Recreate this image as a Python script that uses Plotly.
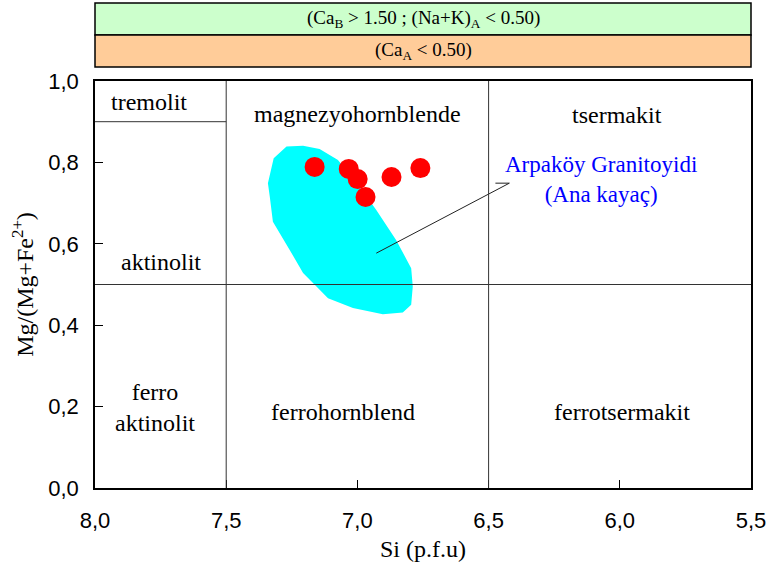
import plotly.graph_objects as go

# ---- data ----
si_values = [7.163, 7.033, 6.999, 6.969, 6.870, 6.760]
mg_values = [0.789, 0.784, 0.759, 0.715, 0.764, 0.786]

envelope_si = [7.270, 7.207, 7.144, 7.074, 6.992, 6.928, 6.852, 6.795, 6.789, 6.795,
               6.827, 6.903, 7.017, 7.112, 7.156, 7.207, 7.258, 7.322, 7.334, 7.341, 7.319]
envelope_mg = [0.839, 0.841, 0.833, 0.806, 0.740, 0.683, 0.609, 0.540, 0.495, 0.450,
               0.431, 0.427, 0.442, 0.466, 0.495, 0.528, 0.585, 0.654, 0.716, 0.749, 0.810]

x_ticks = [8.0, 7.5, 7.0, 6.5, 6.0, 5.5]
y_ticks = [0.0, 0.2, 0.4, 0.6, 0.8, 1.0]

field_labels = ["tremolit", "magnezyohornblende", "tsermakit", "aktinolit",
                "ferro<br>aktinolit", "ferrohornblend", "ferrotsermakit"]
field_x = [7.795, 7.0, 6.01, 7.749, 7.772, 7.056, 5.991]
field_y = [0.948, 0.918, 0.916, 0.555, 0.197, 0.187, 0.187]

# boundaries (x0, y0, x1, y1)
boundaries = [(7.5, 0.0, 7.5, 1.0), (6.5, 0.0, 6.5, 1.0),
              (8.0, 0.5, 5.5, 0.5), (8.0, 0.9, 7.5, 0.9)]

leader_si = [6.928, 6.421, 6.474]
leader_mg = [0.577, 0.749, 0.749]

group_label = "Arpaköy Granitoyidi<br>(Ana kayaç)"
group_label_pos = (6.071, 0.759)

box_texts = ["(Ca<sub>B</sub> > 1.50 ; (Na+K)<sub>A</sub> < 0.50)", "(Ca<sub>A</sub> < 0.50)"]
box_colors = ["#CCFFCC", "#FFCC99"]

SERIF = "Liberation Serif"
SANS = "Liberation Sans"

fig = go.Figure()

fig.add_trace(go.Scatter(
    x=envelope_si, y=envelope_mg, mode="lines", fill="toself",
    fillcolor="#00FFFF", line=dict(width=0, color="#00FFFF"),
    hoverinfo="skip", showlegend=False))

fig.add_trace(go.Scatter(
    x=leader_si, y=leader_mg, mode="lines",
    line=dict(color="#222222", width=1), hoverinfo="skip", showlegend=False))

fig.add_trace(go.Scatter(
    x=si_values, y=mg_values, mode="markers",
    marker=dict(color="#FF0000", size=20, line=dict(width=0)),
    showlegend=False))

shapes = []
for (x0, y0, x1, y1) in boundaries:
    shapes.append(dict(type="line", xref="x", yref="y", x0=x0, y0=y0, x1=x1, y1=y1,
                       line=dict(color="#333333", width=1), layer="above"))

box_y = [(1.113, 1.1916), (1.0344, 1.113)]
for (y0, y1), col in zip(box_y, box_colors):
    shapes.append(dict(type="rect", xref="paper", yref="paper", x0=0, x1=1, y0=y0, y1=y1,
                       fillcolor=col, line=dict(color="black", width=1.5)))

annotations = []
for t, x, y in zip(field_labels, field_x, field_y):
    annotations.append(dict(text=t, x=x, y=y, xref="x", yref="y", showarrow=False,
                            xanchor="center", yanchor="middle",
                            font=dict(family=SERIF, size=24, color="black")))
annotations.append(dict(text=group_label, x=group_label_pos[0], y=group_label_pos[1],
                        xref="x", yref="y", showarrow=False,
                        xanchor="center", yanchor="middle",
                        font=dict(family=SERIF, size=23, color="#0000FF")))
for t, (y0, y1) in zip(box_texts, box_y):
    annotations.append(dict(text=t, x=0.5, y=(y0 + y1) / 2, xref="paper", yref="paper",
                            showarrow=False, xanchor="center", yanchor="middle",
                            font=dict(family=SERIF, size=19, color="black")))

fig.update_layout(
    width=767, height=565,
    margin=dict(l=95, r=16, t=81, b=77),
    paper_bgcolor="white", plot_bgcolor="white",
    separators=",.",
    shapes=shapes, annotations=annotations,
    xaxis=dict(range=[8.0, 5.5], tickvals=x_ticks, tickformat=".1f", automargin=False,
               showgrid=False, zeroline=False, showline=True, linecolor="black",
               linewidth=1.5, mirror=True, ticks="inside", ticklen=8, tickcolor="black",
               tickfont=dict(family=SANS, size=22, color="black"),
               ticklabelstandoff=12,
               title=dict(text="Si (p.f.u)", font=dict(family=SERIF, size=24, color="black"),
                          standoff=8)),
    yaxis=dict(range=[0, 1.0], tickvals=y_ticks, tickformat=".1f", automargin=False,
               showgrid=False, zeroline=False, showline=True, linecolor="black",
               linewidth=1.5, mirror=True, ticks="inside", ticklen=8, tickcolor="black",
               tickfont=dict(family=SANS, size=22, color="black"),
               ticklabelstandoff=10,
               title=dict(text="Mg/(Mg+Fe<sup>2+</sup>)",
                          font=dict(family=SERIF, size=24, color="black"), standoff=8)),
)

fig.write_html(
    "out.html",
    config={"displayModeBar": False},
    post_script="document.body.style.margin='0';document.body.style.overflow='hidden';",
)
